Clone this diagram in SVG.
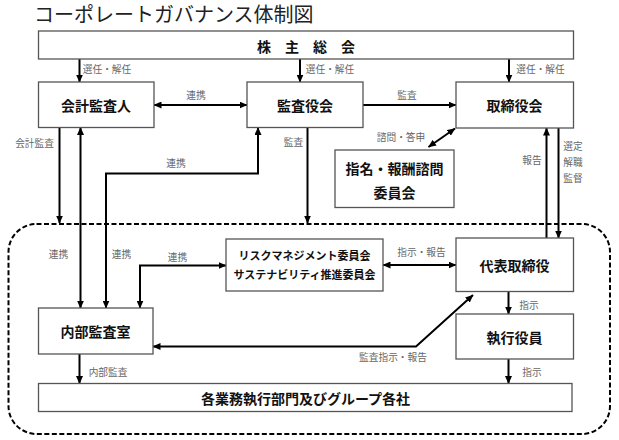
<svg xmlns="http://www.w3.org/2000/svg" width="619" height="440" viewBox="0 0 619 440">
<style>
text{font-family:"Noto Sans CJK JP","Noto Sans",sans-serif;dominant-baseline:central}
.box{fill:#fff;stroke:#555;stroke-width:1.3}
.bt{font-size:14px;font-weight:bold;fill:#111;text-anchor:middle}
.st{font-size:11px;font-weight:bold;fill:#111;text-anchor:middle}
.lb{font-size:9.7px;fill:#666;text-anchor:middle}
.ln{fill:none;stroke:#000;stroke-width:2}
.e{marker-end:url(#ah)}
.s{marker-start:url(#ah)}
</style>
<defs>
<marker id="ah" markerUnits="userSpaceOnUse" markerWidth="8" markerHeight="7" refX="7.5" refY="3.5" orient="auto-start-reverse">
<path d="M0,0 L8,3.5 L0,7 z" fill="#000"/>
</marker>
</defs>
<rect width="619" height="440" fill="#fff"/>
<text x="34" y="13.5" style="font-size:20px;fill:#222">コーポレートガバナンス体制図</text>

<rect x="8.5" y="224" width="601.5" height="210" rx="28" ry="28" fill="none" stroke="#000" stroke-width="2" stroke-dasharray="5 2.5"/>

<g id="connectors">
<line class="ln e" x1="79.5" y1="59" x2="79.5" y2="82"/>
<line class="ln e" x1="300" y1="59" x2="300" y2="82"/>
<line class="ln e" x1="509" y1="59" x2="509" y2="82"/>
<line class="ln e s" x1="154" y1="105" x2="247" y2="105"/>
<line class="ln e" x1="363" y1="105" x2="456" y2="105"/>
<line class="ln e s" x1="428.5" y1="147" x2="455" y2="128.5"/>
<line class="ln e" x1="546.5" y1="238" x2="546.5" y2="128"/>
<line class="ln e" x1="558.5" y1="128" x2="558.5" y2="238"/>
<line class="ln e" x1="59.5" y1="127.5" x2="59.5" y2="223"/>
<line class="ln e s" x1="80.5" y1="127.5" x2="80.5" y2="308"/>
<polyline class="ln e s" points="258,127.5 258,173.5 106,173.5 106,308"/>
<line class="ln e" x1="307.5" y1="127.5" x2="307.5" y2="223"/>
<polyline class="ln e s" points="140,308 140,265.5 226,265.5"/>
<line class="ln e s" x1="383" y1="265" x2="456" y2="265"/>
<polyline class="ln e s" points="473,295 416,346.5 153,346.5"/>
<line class="ln e" x1="508.5" y1="291.5" x2="508.5" y2="314"/>
<line class="ln e" x1="508.5" y1="359" x2="508.5" y2="383.5"/>
<line class="ln e" x1="79.5" y1="354" x2="79.5" y2="383.5"/>

<text class="lb" x="107" y="69.3">選任・解任</text>
<text class="lb" x="330" y="69.3">選任・解任</text>
<text class="lb" x="540.5" y="69.3">選任・解任</text>
<text class="lb" x="196" y="94.5">連携</text>
<text class="lb" x="407" y="94.5">監査</text>
<text class="lb" x="401" y="137">諮問・答申</text>
<text class="lb" x="532" y="160">報告</text>
<text class="lb" x="573" y="146">選定</text>
<text class="lb" x="573" y="162">解職</text>
<text class="lb" x="573" y="178">監督</text>
<text class="lb" x="34.5" y="143">会計監査</text>
<text class="lb" x="176" y="163">連携</text>
<text class="lb" x="293.5" y="142">監査</text>
<text class="lb" x="58.5" y="254">連携</text>
<text class="lb" x="121.5" y="254">連携</text>
<text class="lb" x="177.5" y="257">連携</text>
<text class="lb" x="421.5" y="252">指示・報告</text>
<text class="lb" x="393" y="356.5">監査指示・報告</text>
<text class="lb" x="529" y="305">指示</text>
<text class="lb" x="532" y="371.5">指示</text>
<text class="lb" x="108" y="371.5">内部監査</text>
</g>

<g id="shareholders">
<rect class="box" x="38.5" y="31" width="535" height="28"/>
<text class="bt" x="306" y="45.5">株　主　総　会</text>
</g>
<g id="accounting-auditor">
<rect class="box" x="38.5" y="82" width="115.5" height="45.5"/>
<text class="bt" x="96" y="104.5">会計監査人</text>
</g>
<g id="audit-board">
<rect class="box" x="247" y="82" width="116" height="45.5"/>
<text class="bt" x="305" y="104.5">監査役会</text>
</g>
<g id="board-of-directors">
<rect class="box" x="456" y="82" width="117.5" height="46"/>
<text class="bt" x="514.5" y="105">取締役会</text>
</g>
<g id="nomination-committee">
<rect class="box" x="335" y="150" width="119" height="57.5"/>
<text class="bt" x="394.5" y="167.7">指名・報酬諮問</text>
<text class="bt" x="394.5" y="191.5">委員会</text>
</g>
<g id="risk-committee">
<rect class="box" x="226" y="239" width="157" height="52"/>
<text class="st" x="304.5" y="255">リスクマネジメント委員会</text>
<text class="st" x="304.5" y="274.3">サステナビリティ推進委員会</text>
</g>
<g id="ceo">
<rect class="box" x="456" y="238" width="117.5" height="53.5"/>
<text class="bt" x="514.5" y="264.5">代表取締役</text>
</g>
<g id="executive-officers">
<rect class="box" x="456" y="314" width="117.5" height="45"/>
<text class="bt" x="514.5" y="336.5">執行役員</text>
</g>
<g id="internal-audit">
<rect class="box" x="38.5" y="308" width="114.5" height="46"/>
<text class="bt" x="95.5" y="331">内部監査室</text>
</g>
<g id="business-divisions">
<rect class="box" x="38.5" y="383.5" width="533.5" height="28"/>
<text class="bt" x="305.5" y="398">各業務執行部門及びグループ各社</text>
</g>
</svg>
